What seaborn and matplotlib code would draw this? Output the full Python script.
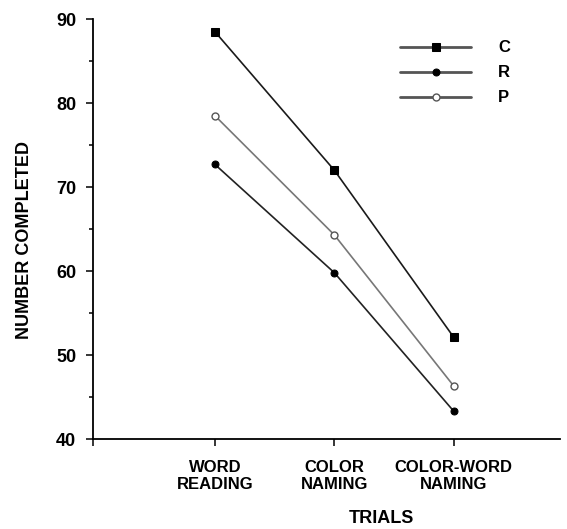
import matplotlib
matplotlib.use("Agg")
import matplotlib.pyplot as plt
import pandas as pd
import seaborn as sns

# Stroop-type task: number completed per trial type for three groups
trials = ['WORD\nREADING', 'COLOR\nNAMING', 'COLOR-WORD\nNAMING']
groups = ['C', 'R', 'P']
c_values = [88.5, 72.0, 52.1]
r_values = [72.7, 59.8, 43.3]
p_values = [78.5, 64.3, 46.3]

df = pd.DataFrame({
    'Trial': trials * 3,
    'Group': ['C'] * 3 + ['R'] * 3 + ['P'] * 3,
    'Number': c_values + r_values + p_values,
})

sns.set_style('ticks')
plt.rcParams['font.family'] = ['Liberation Sans', 'DejaVu Sans']
plt.rcParams['font.weight'] = 'bold'
plt.rcParams['text.color'] = 'black'
plt.rcParams['axes.labelcolor'] = 'black'
plt.rcParams['xtick.color'] = 'black'
plt.rcParams['ytick.color'] = 'black'

fig = plt.figure(figsize=(5.67, 5.29), dpi=100)
ax = fig.add_axes([0.164, 0.170, 0.824, 0.794])

styles = {
    'C': dict(color='#1a1a1a', marker='s', markersize=6, markerfacecolor='black',
              markeredgecolor='black'),
    'R': dict(color='#222222', marker='o', markersize=5, markerfacecolor='black',
              markeredgecolor='black'),
    'P': dict(color='#777777', marker='o', markersize=5, markerfacecolor='white',
              markeredgecolor='#555555', markeredgewidth=1.0),
}

for g in groups:
    sub = df[df['Group'] == g]
    sns.lineplot(data=sub, x='Trial', y='Number', ax=ax, label=g,
                 linewidth=1.2, sort=False, **styles[g])

ax.set_ylim(40, 90)
ax.set_yticks([40, 50, 60, 70, 80, 90])
ax.set_yticks([45, 55, 65, 75, 85], minor=True)
ax.set_xlim(-1.02, 2.89)
ax.set_xticks([0, 1, 2])
ax.set_xticklabels(trials, fontsize=12, fontweight='bold', linespacing=1.15)
ax.set_xticks([-1.02], minor=True)

for lbl in ax.get_yticklabels():
    lbl.set_fontsize(13)
    lbl.set_fontweight('bold')

ax.tick_params(axis='both', which='major', direction='out', length=5, width=1.1,
               color='black', pad=7)
ax.tick_params(axis='x', which='major', pad=10)
ax.tick_params(axis='both', which='minor', direction='out', length=3, width=1.1,
               color='black')
ax.tick_params(axis='x', which='minor', length=5)

sns.despine(ax=ax)
for side in ['left', 'bottom']:
    ax.spines[side].set_linewidth(1.3)
    ax.spines[side].set_color('black')

ax.set_xlabel('TRIALS', fontsize=13, fontweight='bold')
ax.set_ylabel('NUMBER COMPLETED', fontsize=13, fontweight='bold')
ax.xaxis.set_label_coords(0.617, -0.170)
ax.yaxis.set_label_coords(-0.128, 0.474)

leg = ax.legend(loc='upper right', bbox_to_anchor=(0.925, 0.985), frameon=False,
                markerfirst=True, handlelength=4.3, handletextpad=1.6,
                labelspacing=0.6, prop={'weight': 'bold', 'size': 12})
for line in leg.get_lines():
    line.set_linewidth(2.0)
    line.set_color('#555555')

fig.savefig('out.png', dpi=100)
